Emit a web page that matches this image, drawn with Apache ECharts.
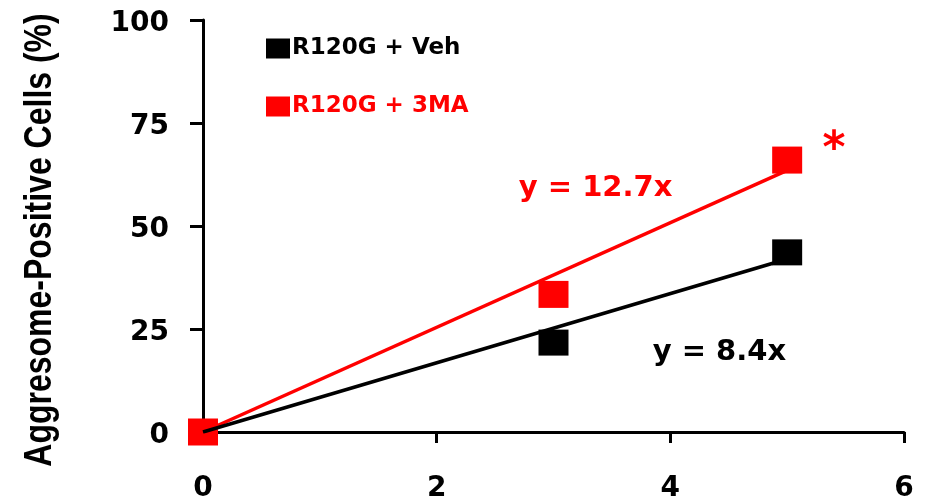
<!DOCTYPE html>
<html>
<head>
<meta charset="utf-8">
<script src="https://cdn.jsdelivr.net/npm/echarts@6/dist/echarts.min.js"></script>
<style>html,body{margin:0;padding:0;background:#fff}#c{width:926px;height:503px}</style>
</head>
<body>
<div id="c"></div>
<script>
// ---- data ----
var seriesNames = ['R120G + Veh', 'R120G + 3MA'];
var seriesColors = ['#000000', '#ff0000'];
var xValues = [0, 3, 5];
var vehValues = [0, 21.7, 43.6];
var maValues = [0, 33.4, 66.0];
var trendSlopes = [8.4, 12.7];
var trendRange = [0, 5];
var xTicks = [0, 2, 4, 6];
var yTicks = [0, 25, 50, 75, 100];
var yTitle = 'Aggresome-Positive Cells (%)';
var annoTexts = ['y = 12.7x', 'y = 8.4x', '*'];
var annoColors = ['#ff0000', '#000000', '#ff0000'];
var annoX = [3.36, 4.42, 5.40];
var annoY = [59.2, 19.2, 68.4];
var annoSizes = [29, 29, 44];

var FONT = 'DejaVu Sans';
var chart = echarts.init(document.getElementById('c'));

function pts(vals) { return xValues.map(function (x, i) { return [x, vals[i]]; }); }
function trend(slope) { return trendRange.map(function (x) { return [x, slope * x]; }); }

var series = [
  { name: seriesNames[0], type: 'scatter', data: pts(vehValues), symbol: 'rect', symbolSize: [30, 26],
    itemStyle: { color: seriesColors[0], opacity: 1 }, z: 2 },
  { name: seriesNames[1], type: 'scatter', data: pts(maValues), symbol: 'rect', symbolSize: [30, 27],
    itemStyle: { color: seriesColors[1], opacity: 1 }, z: 3 },
  { name: 'trend3MA', type: 'line', data: trend(trendSlopes[1]), symbol: 'none',
    lineStyle: { color: seriesColors[1], width: 3.5 }, z: 4, silent: true },
  { name: 'trendVeh', type: 'line', data: trend(trendSlopes[0]), symbol: 'none',
    lineStyle: { color: seriesColors[0], width: 3.5 }, z: 5, silent: true }
];
annoTexts.forEach(function (t, i) {
  series.push({
    name: 'anno' + i, type: 'scatter', silent: true, z: 6,
    data: [{ value: [annoX[i], annoY[i]], name: t }],
    symbolSize: 1, itemStyle: { color: 'rgba(0,0,0,0)', opacity: 1 },
    label: { show: true, position: 'inside', formatter: function (p) { return p.name; },
      color: annoColors[i], fontFamily: FONT, fontWeight: 'bold', fontSize: annoSizes[i] }
  });
});

chart.setOption({
  backgroundColor: '#ffffff',
  animation: false,
  grid: { left: 203, right: 22, top: 20, bottom: 66, containLabel: false },
  legend: {
    data: [
      { name: seriesNames[0], textStyle: { color: seriesColors[0] } },
      { name: seriesNames[1], textStyle: { color: seriesColors[1] } }
    ],
    orient: 'vertical', left: 266, top: 37, padding: 0, icon: 'rect',
    itemWidth: 24, itemHeight: 20, itemGap: 35,
    textStyle: { fontFamily: FONT, fontWeight: 'bold', fontSize: 23, padding: [0, 0, 0, -3] }
  },
  xAxis: {
    type: 'value', min: xTicks[0], max: xTicks[xTicks.length - 1], interval: xTicks[1] - xTicks[0],
    splitLine: { show: false },
    axisLine: { onZero: false, lineStyle: { color: '#000', width: 3 } },
    axisTick: { length: 11, lineStyle: { width: 3, color: '#000' } },
    axisLabel: { margin: 43, color: '#000', fontFamily: FONT, fontWeight: 'bold', fontSize: 28 }
  },
  yAxis: {
    type: 'value', min: yTicks[0], max: yTicks[yTicks.length - 1], interval: yTicks[1] - yTicks[0],
    splitLine: { show: false },
    axisLine: { show: true, onZero: false, lineStyle: { color: '#000', width: 3 } },
    axisTick: { show: true, length: 13, lineStyle: { width: 3, color: '#000' } },
    axisLabel: { margin: 34, color: '#000', fontFamily: FONT, fontWeight: 'bold', fontSize: 28,
      verticalAlign: 'top', lineHeight: 8 }
  },
  graphic: [{
    type: 'text', x: 40, y: 240, rotation: Math.PI / 2, scaleY: 1.2,
    style: { text: yTitle, fill: '#000', font: 'bold 32px "Liberation Sans", Arial, sans-serif',
      textAlign: 'center', textVerticalAlign: 'middle' }
  }],
  series: series
});
</script>
</body>
</html>
